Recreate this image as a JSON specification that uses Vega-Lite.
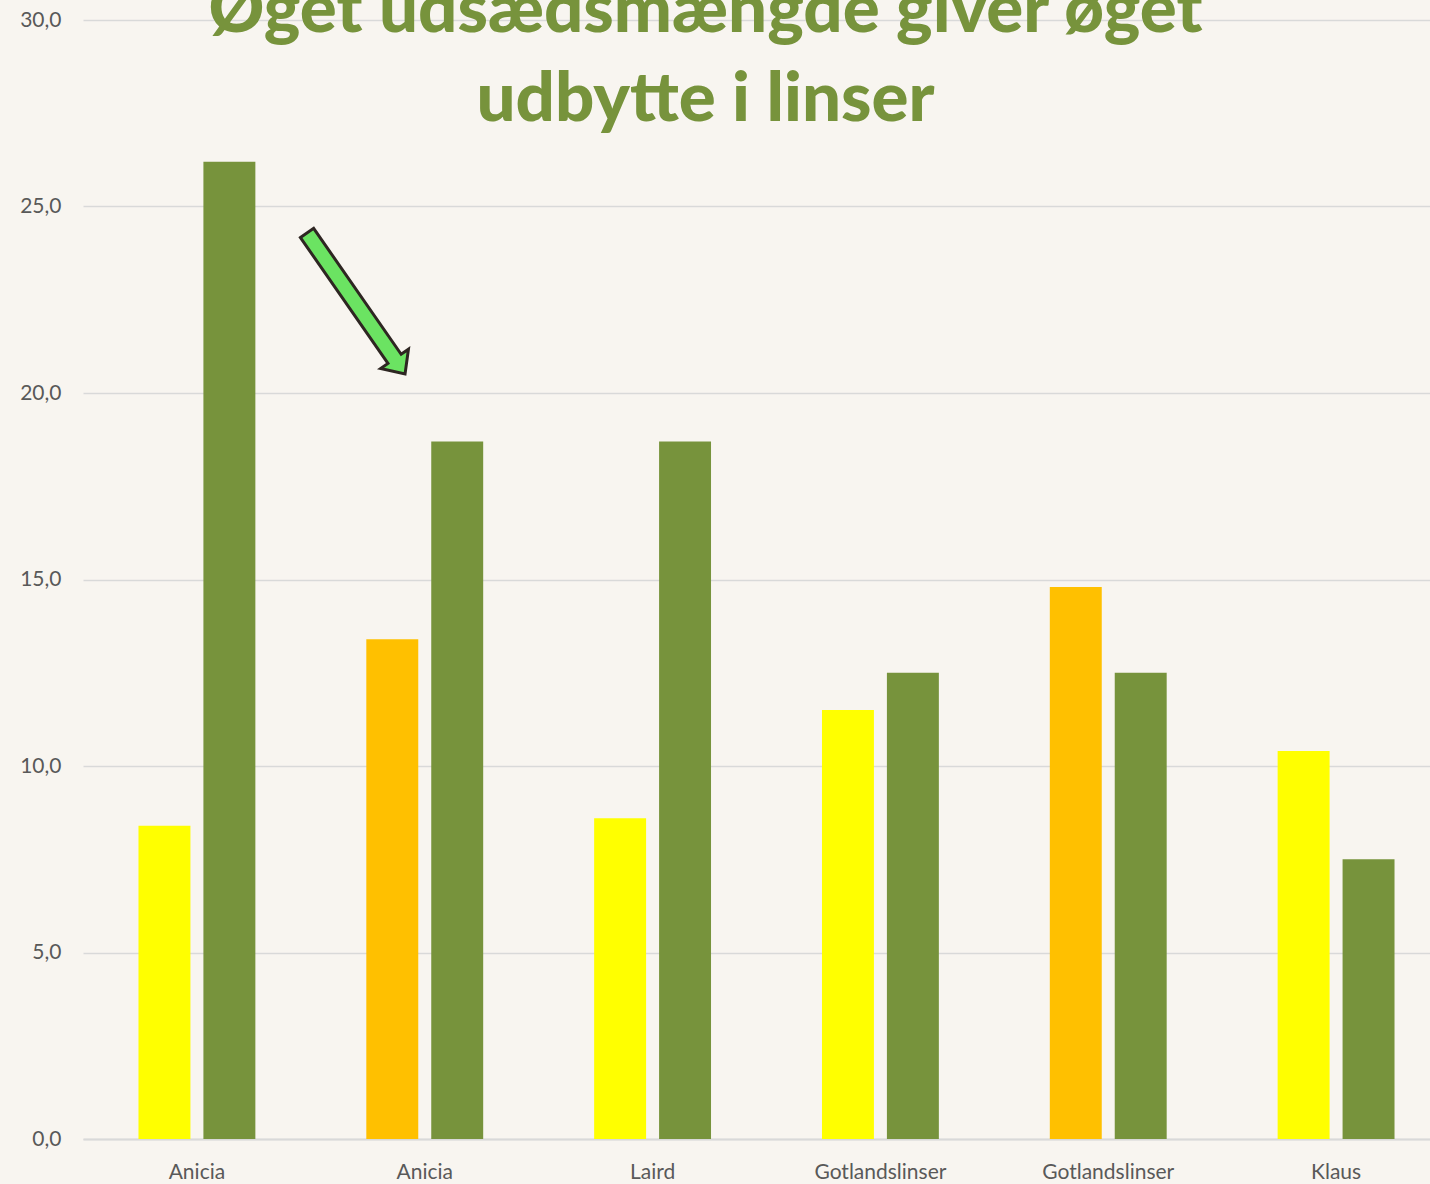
{
  "$schema": "https://vega.github.io/schema/vega-lite/v6.json",
  "autosize": {"type": "none"},
  "padding": {"left": 83, "top": 20, "right": 0, "bottom": 45},
  "width": 1347,
  "height": 1119,
  "background": "#F8F5F0",
  "title": {
    "text": ["Øget udsædsmængde giver øget", "udbytte i linser"],
    "font": "Lato",
    "fontWeight": 900,
    "fontSize": 69,
    "color": "#77933C",
    "lineHeight": 89,
    "anchor": "middle",
    "dx": -51,
    "baseline": "alphabetic",
    "offset": -181
  },
  "config": {
    "view": {"stroke": null},
    "axis": {"labelFont": "Lato", "labelFontSize": 21, "labelColor": "#595959"}
  },
  "datasets": {
    "bars": [
      {"gruppe": "1 Anicia", "serie": "a", "kategori": "gul", "udbytte": 8.4},
      {"gruppe": "1 Anicia", "serie": "b", "kategori": "grøn", "udbytte": 26.2},
      {"gruppe": "2 Anicia", "serie": "a", "kategori": "orange", "udbytte": 13.4},
      {"gruppe": "2 Anicia", "serie": "b", "kategori": "grøn", "udbytte": 18.7},
      {"gruppe": "3 Laird", "serie": "a", "kategori": "gul", "udbytte": 8.6},
      {"gruppe": "3 Laird", "serie": "b", "kategori": "grøn", "udbytte": 18.7},
      {"gruppe": "4 Gotlandslinser", "serie": "a", "kategori": "gul", "udbytte": 11.5},
      {"gruppe": "4 Gotlandslinser", "serie": "b", "kategori": "grøn", "udbytte": 12.5},
      {"gruppe": "5 Gotlandslinser", "serie": "a", "kategori": "orange", "udbytte": 14.8},
      {"gruppe": "5 Gotlandslinser", "serie": "b", "kategori": "grøn", "udbytte": 12.5},
      {"gruppe": "6 Klaus", "serie": "a", "kategori": "gul", "udbytte": 10.4},
      {"gruppe": "6 Klaus", "serie": "b", "kategori": "grøn", "udbytte": 7.5}
    ],
    "pil": [
      {"gruppe": "2 Anicia", "udbytte": 22.4}
    ]
  },
  "layer": [
    {
      "data": {"name": "bars"},
      "mark": {"type": "bar"},
      "encoding": {
        "x": {
          "field": "gruppe", "type": "nominal", "sort": "ascending",
          "scale": {"range": [0, 1367], "paddingInner": 0.487, "paddingOuter": 0.2435},
          "axis": {
            "title": null, "ticks": false, "labelAngle": 0, "labelPadding": 22,
            "labelExpr": "slice(datum.label, 2)",
            "domain": true, "domainColor": "#D9D9D9", "domainWidth": 2
          }
        },
        "xOffset": {
          "field": "serie", "type": "nominal",
          "scale": {"paddingInner": 0.2, "paddingOuter": 0}
        },
        "y": {
          "field": "udbytte", "type": "quantitative",
          "scale": {"domain": [0, 30], "nice": false},
          "axis": {
            "title": null, "values": [0, 5, 10, 15, 20, 25, 30], "domain": false, "ticks": false,
            "labelPadding": 22, "gridColor": "#D9D9D9", "gridWidth": 1.5,
            "labelExpr": "replace(format(datum.value, '.1f'), '.', ',')"
          }
        },
        "color": {
          "field": "kategori", "type": "nominal", "legend": null,
          "scale": {"domain": ["gul", "orange", "grøn"], "range": ["#FFFF00", "#FFC000", "#77933C"]}
        }
      }
    },
    {
      "data": {"name": "pil"},
      "mark": {
        "type": "point",
        "shape": "M -1.243 -0.659 L -1.111 -0.751 L -0.236 0.508 L -0.163 0.457 L -0.197 0.705 L -0.441 0.651 L -0.368 0.600 Z",
        "size": 40000,
        "filled": true,
        "fill": "#6BE362",
        "fillOpacity": 1,
        "stroke": "#2E2622",
        "strokeWidth": 3,
        "strokeJoin": "miter",
        "opacity": 1
      },
      "encoding": {
        "x": {"field": "gruppe", "type": "nominal"},
        "y": {"field": "udbytte", "type": "quantitative"}
      }
    }
  ]
}
